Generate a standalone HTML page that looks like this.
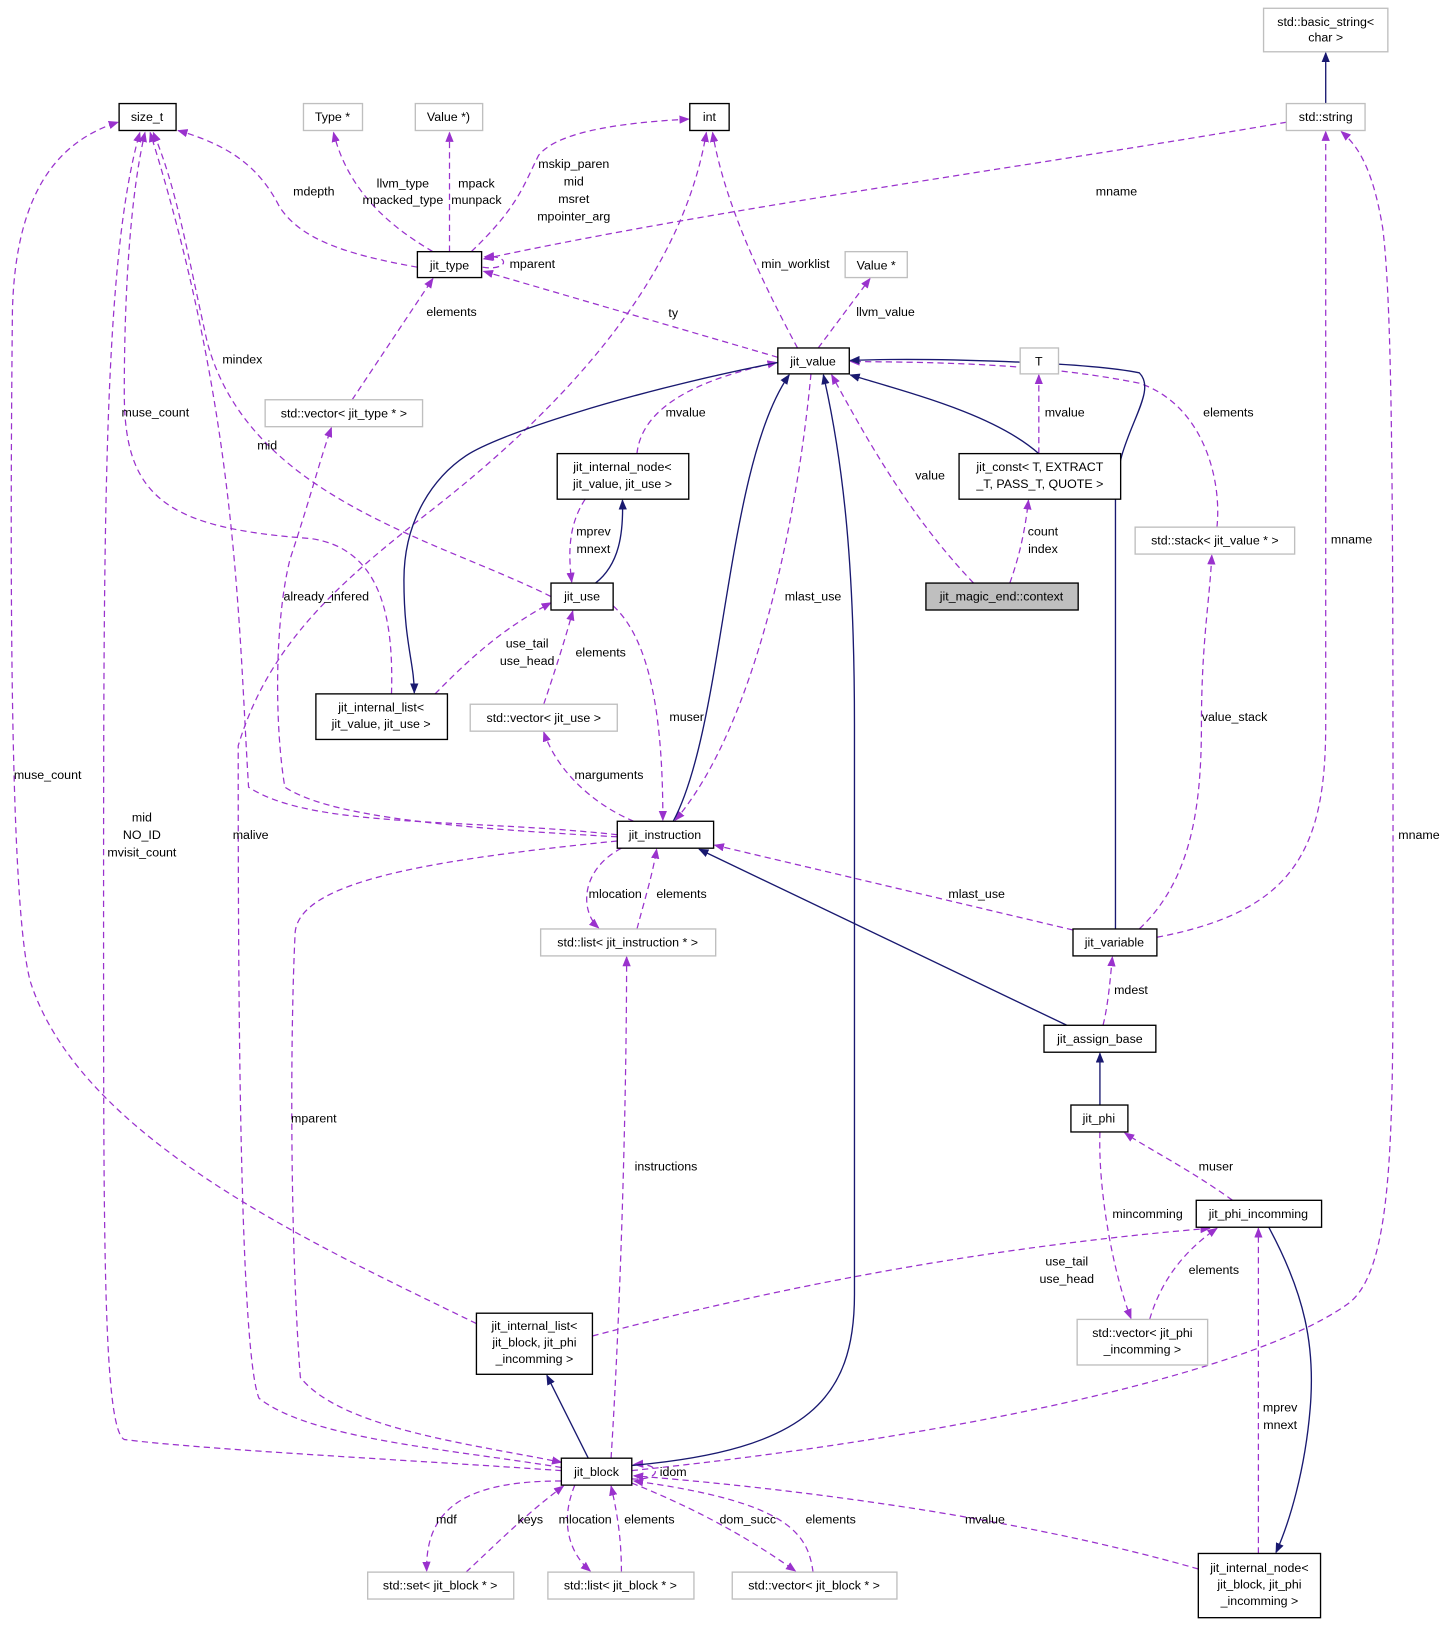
<!DOCTYPE html>
<html><head><meta charset="utf-8"><style>
html,body{margin:0;padding:0;background:#fff}
svg{display:block}
text{font-family:"Liberation Sans",Arial,sans-serif;font-size:12px;fill:#000}
.p{fill:none;stroke:#9a32cd;stroke-width:1.2;stroke-dasharray:6,4}
.n{fill:none;stroke:#191970;stroke-width:1.3}
.b{fill:#fff;stroke:#000;stroke-width:1.3}
.g{fill:#fff;stroke:#bfbfbf;stroke-width:1.3}
</style></head><body>
<svg width="1450" height="1627" viewBox="0 0 1400 1571" preserveAspectRatio="none" xmlns="http://www.w3.org/2000/svg">
<defs>
<marker id="ap" markerWidth="10" markerHeight="8" refX="9" refY="4" orient="auto" markerUnits="userSpaceOnUse"><path d="M0,0 L10,4 L0,8 z" fill="#9a32cd"/></marker>
<marker id="an" markerWidth="10" markerHeight="8" refX="9" refY="4" orient="auto" markerUnits="userSpaceOnUse"><path d="M0,0 L10,4 L0,8 z" fill="#191970"/></marker>
</defs>
<g marker-end="url(#ap)">
<path class="p" d="M403,258 C330,245 290,230 270,200 C250,160 220,140 172,126"/>
<path class="p" d="M418,243 C370,215 335,180 322,128"/>
<path class="p" d="M434,243 L434,128"/>
<path class="p" d="M455,243 C500,200 505,180 520,150 C540,125 610,118 665,115"/>
<path class="p" d="M466,258 C490,262 495,246 468,248"/>
<path class="p" d="M751,345 L467,262"/>
<path class="p" d="M770,336 C740,280 700,200 688,128"/>
<path class="p" d="M790,336 L840,269"/>
<path class="p" d="M1242,118 C1000,160 700,200 467,250"/>
<path class="p" d="M340,386 L418,269"/>
<path class="p" d="M532,576 C420,520 240,480 200,330 C180,240 170,180 148,128"/>
<path class="p" d="M378,670 C380,600 370,530 300,520 C160,510 120,480 120,380 C120,250 130,170 140,128"/>
<path class="p" d="M596,806 C450,790 300,800 240,760 C230,600 230,400 145,128"/>
<path class="p" d="M460,1278 C300,1200 80,1100 30,950 C8,880 10,500 12,300 C15,180 60,135 114,118"/>
<path class="p" d="M542,1420 C400,1410 200,1400 120,1390 C100,1380 100,1200 100,900 C100,500 100,250 135,128"/>
<path class="p" d="M542,1417 C440,1400 300,1390 250,1350 C230,1300 230,900 230,720 C260,620 330,560 420,490 C560,380 660,260 682,128"/>
<path class="p" d="M596,808 C450,800 320,790 275,760 C265,700 265,600 280,540 C300,480 310,440 320,413"/>
<path class="p" d="M615,438 C620,390 680,365 750,350"/>
<path class="p" d="M565,482 C550,505 548,530 552,562"/>
<path class="p" d="M420,670 C450,640 480,610 532,582"/>
<path class="p" d="M525,680 C535,650 545,620 553,590"/>
<path class="p" d="M592,585 C630,620 640,700 640,792"/>
<path class="p" d="M783,361 C770,500 730,700 652,792"/>
<path class="p" d="M612,793 C580,780 540,750 525,707"/>
<path class="p" d="M600,819 C560,840 560,880 578,896"/>
<path class="p" d="M615,897 C622,870 630,845 634,820"/>
<path class="p" d="M940,563 C880,500 840,430 803,362"/>
<path class="p" d="M975,563 C985,535 990,510 993,483"/>
<path class="p" d="M1003,438 L1003,362"/>
<path class="p" d="M1175,509 C1180,460 1160,390 1100,370 C1000,350 900,350 821,349"/>
<path class="p" d="M1036,898 L690,816"/>
<path class="p" d="M1100,897 C1150,850 1160,780 1160,700 C1160,620 1168,580 1170,536"/>
<path class="p" d="M1117,905 C1250,880 1280,820 1280,700 L1280,127"/>
<path class="p" d="M1065,990 C1070,970 1072,945 1074,924"/>
<path class="p" d="M1190,1159 C1150,1130 1110,1110 1086,1094"/>
<path class="p" d="M1062,1093 C1060,1150 1075,1230 1092,1273"/>
<path class="p" d="M1110,1274 C1120,1240 1140,1210 1175,1186"/>
<path class="p" d="M572,1290 C800,1230 1000,1200 1168,1186"/>
<path class="p" d="M1215,1500 L1215,1186"/>
<path class="p" d="M596,812 C420,830 290,850 285,900 C280,1000 280,1200 290,1330 C330,1380 460,1395 542,1412"/>
<path class="p" d="M590,1408 C600,1250 605,1050 605,924"/>
<path class="p" d="M610,1420 C900,1390 1200,1330 1300,1260 C1345,1230 1345,1100 1345,900 C1345,500 1345,300 1335,220 C1325,160 1310,140 1295,127"/>
<path class="p" d="M610,1428 C640,1430 640,1412 612,1414"/>
<path class="p" d="M542,1430 C460,1430 410,1450 412,1517"/>
<path class="p" d="M450,1518 C480,1490 510,1460 544,1435"/>
<path class="p" d="M555,1434 C540,1470 550,1500 570,1517"/>
<path class="p" d="M600,1518 C600,1490 597,1465 590,1435"/>
<path class="p" d="M610,1432 C680,1460 730,1490 768,1517"/>
<path class="p" d="M785,1518 C780,1480 760,1450 612,1430"/>
<path class="p" d="M1157,1515 C1000,1470 800,1440 612,1425"/>
</g>
<g marker-end="url(#an)">
<path class="n" d="M1280,100 L1280,51"/>
<path class="n" d="M751,350 C600,380 480,420 450,440 C420,460 390,500 390,560 C390,620 400,640 400,669"/>
<path class="n" d="M575,563 C598,545 602,515 601,483"/>
<path class="n" d="M650,793 C700,700 700,450 762,362"/>
<path class="n" d="M1003,438 C960,400 880,380 821,362"/>
<path class="n" d="M1077,897 L1077,480 C1077,420 1120,380 1100,360 C1050,350 900,345 821,348"/>
<path class="n" d="M610,1415 C780,1400 825,1350 825,1250 L825,700 C825,550 815,450 795,362"/>
<path class="n" d="M1030,990 L675,820"/>
<path class="n" d="M1062,1067 L1062,1017"/>
<path class="n" d="M1225,1185 C1260,1250 1270,1300 1265,1360 C1260,1420 1245,1470 1232,1499"/>
<path class="n" d="M568,1408 L528,1328"/>
</g>
<g>
<rect class="g" x="1220" y="8" width="120" height="42"/><text x="1280" y="25" text-anchor="middle">std::basic_string&lt;</text><text x="1280" y="40" text-anchor="middle">char &gt;</text>
<rect class="g" x="1242" y="100" width="76" height="26"/><text x="1280" y="117" text-anchor="middle">std::string</text>
<rect class="b" x="115" y="100" width="55" height="26"/><text x="142" y="117" text-anchor="middle">size_t</text>
<rect class="g" x="293" y="100" width="57" height="26"/><text x="321" y="117" text-anchor="middle">Type *</text>
<rect class="g" x="401" y="100" width="65" height="26"/><text x="433" y="117" text-anchor="middle">Value *)</text>
<rect class="b" x="666" y="100" width="38" height="26"/><text x="685" y="117" text-anchor="middle">int</text>
<rect class="b" x="403" y="243" width="62" height="25"/><text x="434" y="260" text-anchor="middle">jit_type</text>
<rect class="g" x="816" y="243" width="60" height="25"/><text x="846" y="260" text-anchor="middle">Value *</text>
<rect class="b" x="751" y="336" width="69" height="25"/><text x="785" y="353" text-anchor="middle">jit_value</text>
<rect class="g" x="985" y="336" width="37" height="25"/><text x="1003" y="353" text-anchor="middle">T</text>
<rect class="g" x="256" y="386" width="152" height="26"/><text x="332" y="403" text-anchor="middle">std::vector&lt; jit_type * &gt;</text>
<rect class="b" x="538" y="438" width="127" height="44"/><text x="601" y="455" text-anchor="middle">jit_internal_node&lt;</text><text x="601" y="471" text-anchor="middle">jit_value, jit_use &gt;</text>
<rect class="b" x="926" y="438" width="156" height="44"/><text x="1004" y="455" text-anchor="middle">jit_const&lt; T, EXTRACT</text><text x="1004" y="471" text-anchor="middle">_T, PASS_T, QUOTE &gt;</text>
<rect class="g" x="1096" y="509" width="154" height="26"/><text x="1173" y="526" text-anchor="middle">std::stack&lt; jit_value * &gt;</text>
<rect x="894" y="563" width="147" height="26" fill="#bfbfbf" stroke="#000" stroke-width="1.3"/><text x="967" y="580" text-anchor="middle">jit_magic_end::context</text>
<rect class="b" x="532" y="563" width="60" height="26"/><text x="562" y="580" text-anchor="middle">jit_use</text>
<rect class="b" x="305" y="670" width="127" height="44"/><text x="368" y="687" text-anchor="middle">jit_internal_list&lt;</text><text x="368" y="703" text-anchor="middle">jit_value, jit_use &gt;</text>
<rect class="g" x="454" y="680" width="142" height="26"/><text x="525" y="697" text-anchor="middle">std::vector&lt; jit_use &gt;</text>
<rect class="b" x="596" y="793" width="93" height="26"/><text x="642" y="810" text-anchor="middle">jit_instruction</text>
<rect class="g" x="522" y="897" width="169" height="26"/><text x="606" y="914" text-anchor="middle">std::list&lt; jit_instruction * &gt;</text>
<rect class="b" x="1036" y="897" width="81" height="26"/><text x="1076" y="914" text-anchor="middle">jit_variable</text>
<rect class="b" x="1008" y="990" width="108" height="26"/><text x="1062" y="1007" text-anchor="middle">jit_assign_base</text>
<rect class="b" x="1034" y="1067" width="55" height="26"/><text x="1061" y="1084" text-anchor="middle">jit_phi</text>
<rect class="b" x="1155" y="1159" width="121" height="26"/><text x="1215" y="1176" text-anchor="middle">jit_phi_incomming</text>
<rect class="b" x="460" y="1268" width="112" height="59"/><text x="516" y="1284" text-anchor="middle">jit_internal_list&lt;</text><text x="516" y="1300" text-anchor="middle">jit_block, jit_phi</text><text x="516" y="1316" text-anchor="middle">_incomming &gt;</text>
<rect class="g" x="1040" y="1274" width="126" height="44"/><text x="1103" y="1291" text-anchor="middle">std::vector&lt; jit_phi</text><text x="1103" y="1307" text-anchor="middle">_incomming &gt;</text>
<rect class="b" x="542" y="1408" width="68" height="26"/><text x="576" y="1425" text-anchor="middle">jit_block</text>
<rect class="g" x="355" y="1518" width="141" height="26"/><text x="425" y="1535" text-anchor="middle">std::set&lt; jit_block * &gt;</text>
<rect class="g" x="529" y="1518" width="141" height="26"/><text x="599" y="1535" text-anchor="middle">std::list&lt; jit_block * &gt;</text>
<rect class="g" x="707" y="1518" width="159" height="26"/><text x="786" y="1535" text-anchor="middle">std::vector&lt; jit_block * &gt;</text>
<rect class="b" x="1157" y="1500" width="118" height="62"/><text x="1216" y="1518" text-anchor="middle">jit_internal_node&lt;</text><text x="1216" y="1534" text-anchor="middle">jit_block, jit_phi</text><text x="1216" y="1550" text-anchor="middle">_incomming &gt;</text>
</g>
<g text-anchor="middle">
<text x="303" y="189">mdepth</text>
<text x="389" y="181">llvm_type</text><text x="389" y="197">mpacked_type</text>
<text x="460" y="181">mpack</text><text x="460" y="197">munpack</text>
<text x="554" y="162">mskip_paren</text><text x="554" y="179">mid</text><text x="554" y="196">msret</text><text x="554" y="213">mpointer_arg</text>
<text x="514" y="259">mparent</text>
<text x="650" y="306">ty</text>
<text x="768" y="259">min_worklist</text>
<text x="855" y="305">llvm_value</text>
<text x="1078" y="189">mname</text>
<text x="436" y="305">elements</text>
<text x="234" y="351">mindex</text>
<text x="150" y="402">muse_count</text>
<text x="258" y="434">mid</text>
<text x="46" y="752">muse_count</text>
<text x="137" y="793">mid</text><text x="137" y="810">NO_ID</text><text x="137" y="827">mvisit_count</text>
<text x="242" y="810">malive</text>
<text x="315" y="580">already_infered</text>
<text x="662" y="402">mvalue</text>
<text x="573" y="517">mprev</text><text x="573" y="534">mnext</text>
<text x="509" y="625">use_tail</text><text x="509" y="642">use_head</text>
<text x="580" y="634">elements</text>
<text x="663" y="696">muser</text>
<text x="785" y="580">mlast_use</text>
<text x="588" y="752">marguments</text>
<text x="594" y="867">mlocation</text>
<text x="658" y="867">elements</text>
<text x="898" y="463">value</text>
<text x="1007" y="517">count</text><text x="1007" y="534">index</text>
<text x="1028" y="402">mvalue</text>
<text x="1186" y="402">elements</text>
<text x="943" y="867">mlast_use</text>
<text x="1192" y="696">value_stack</text>
<text x="1305" y="525">mname</text>
<text x="1092" y="960">mdest</text>
<text x="1174" y="1130">muser</text>
<text x="1108" y="1176">mincomming</text>
<text x="1172" y="1230">elements</text>
<text x="1030" y="1222">use_tail</text><text x="1030" y="1239">use_head</text>
<text x="1236" y="1363">mprev</text><text x="1236" y="1380">mnext</text>
<text x="303" y="1084">mparent</text>
<text x="643" y="1130">instructions</text>
<text x="1370" y="810">mname</text>
<text x="650" y="1425">idom</text>
<text x="431" y="1471">mdf</text>
<text x="512" y="1471">keys</text>
<text x="565" y="1471">mlocation</text>
<text x="627" y="1471">elements</text>
<text x="722" y="1471">dom_succ</text>
<text x="802" y="1471">elements</text>
<text x="951" y="1471">mvalue</text>
</g>
</svg>
</body></html>
